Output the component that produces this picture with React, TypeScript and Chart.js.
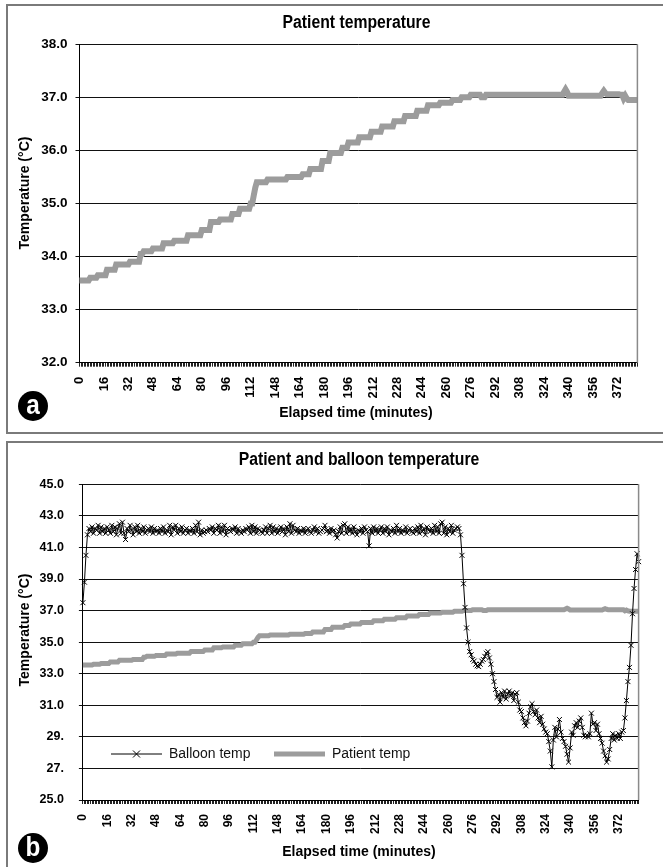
import React, { useEffect, useRef } from "react";
import { Chart, registerables } from "chart.js";

Chart.register(...registerables);

const FONT = '"Liberation Sans", Arial, Helvetica, sans-serif';

// Categories: elapsed minutes (the record skips minutes 113-132)
const minuteSegments: number[][] = [
  [0, 112],
  [133, 385],
];
const minutes: number[] = [];
minuteSegments.forEach(([a, b]) => {
  for (let m = a; m <= b; m++) minutes.push(m);
});
const xLabels = minutes.map(String);

// Axis tick labels
const xTickLabels = ["0", "16", "32", "48", "64", "80", "96", "112", "148", "164", "180", "196", "212", "228", "244", "260", "276", "292", "308", "324", "340", "356", "372"];
const xTickEvery = 16;
const tempTicksA = ["32.0", "33.0", "34.0", "35.0", "36.0", "37.0", "38.0"];
const tempTicksB = ["25.0", "27.", "29.", "31.0", "33.0", "35.0", "37.0", "39.0", "41.0", "43.0", "45.0"];

// Patient temperature (°C), one value per category
const patientTemp = [
  33.55, 33.55, 33.55, 33.55, 33.55, 33.55, 33.55, 33.6, 33.6, 33.6, 33.6, 33.6, 33.65, 33.65, 33.65, 33.65,
  33.65, 33.65, 33.75, 33.75, 33.75, 33.75, 33.75, 33.75, 33.85, 33.85, 33.85, 33.85, 33.85, 33.85, 33.85, 33.85,
  33.85, 33.9, 33.9, 33.9, 33.9, 33.9, 33.9, 33.9, 34.05, 34.05, 34.1, 34.1, 34.1, 34.1, 34.1, 34.1,
  34.15, 34.15, 34.15, 34.15, 34.15, 34.15, 34.15, 34.25, 34.25, 34.25, 34.25, 34.25, 34.25, 34.25, 34.3, 34.3,
  34.3, 34.3, 34.3, 34.3, 34.3, 34.3, 34.3, 34.4, 34.4, 34.4, 34.4, 34.4, 34.4, 34.4, 34.4, 34.4,
  34.5, 34.5, 34.5, 34.5, 34.5, 34.5, 34.65, 34.65, 34.65, 34.65, 34.65, 34.65, 34.7, 34.7, 34.7, 34.7,
  34.7, 34.7, 34.7, 34.7, 34.8, 34.8, 34.8, 34.8, 34.8, 34.9, 34.9, 34.9, 34.9, 34.9, 34.9, 34.9,
  35.0, 35.0, 35.15, 35.3, 35.4, 35.4, 35.4, 35.4, 35.4, 35.4, 35.4, 35.45, 35.45, 35.45, 35.45, 35.45,
  35.45, 35.45, 35.45, 35.45, 35.45, 35.45, 35.45, 35.45, 35.5, 35.5, 35.5, 35.5, 35.5, 35.5, 35.5, 35.5,
  35.5, 35.5, 35.55, 35.55, 35.55, 35.55, 35.55, 35.65, 35.65, 35.65, 35.65, 35.65, 35.65, 35.65, 35.65, 35.8,
  35.8, 35.8, 35.8, 35.8, 35.95, 35.95, 35.95, 35.95, 35.95, 35.95, 35.95, 35.95, 36.05, 36.05, 36.05, 36.05,
  36.15, 36.15, 36.15, 36.15, 36.15, 36.15, 36.15, 36.25, 36.25, 36.25, 36.25, 36.25, 36.25, 36.25, 36.25, 36.35,
  36.35, 36.35, 36.35, 36.35, 36.35, 36.35, 36.45, 36.45, 36.45, 36.45, 36.45, 36.45, 36.45, 36.45, 36.55, 36.55,
  36.55, 36.55, 36.55, 36.55, 36.55, 36.65, 36.65, 36.65, 36.65, 36.65, 36.65, 36.65, 36.65, 36.75, 36.75, 36.75,
  36.75, 36.75, 36.75, 36.75, 36.85, 36.85, 36.85, 36.85, 36.85, 36.85, 36.85, 36.85, 36.9, 36.9, 36.9, 36.9,
  36.9, 36.9, 36.9, 36.9, 36.95, 36.95, 36.95, 36.95, 36.95, 36.95, 37.0, 37.0, 37.0, 37.0, 37.0, 37.0,
  37.05, 37.05, 37.05, 37.05, 37.05, 37.05, 37.05, 37.0, 37.0, 37.0, 37.05, 37.05, 37.05, 37.05, 37.05, 37.05,
  37.05, 37.05, 37.05, 37.05, 37.05, 37.05, 37.05, 37.05, 37.05, 37.05, 37.05, 37.05, 37.05, 37.05, 37.05, 37.05,
  37.05, 37.05, 37.05, 37.05, 37.05, 37.05, 37.05, 37.05, 37.05, 37.05, 37.05, 37.05, 37.05, 37.05, 37.05, 37.05,
  37.05, 37.05, 37.05, 37.05, 37.05, 37.05, 37.05, 37.05, 37.05, 37.05, 37.05, 37.05, 37.05, 37.1, 37.15, 37.1,
  37.03, 37.03, 37.03, 37.03, 37.03, 37.03, 37.03, 37.03, 37.03, 37.03, 37.03, 37.03, 37.03, 37.03, 37.03, 37.03,
  37.03, 37.03, 37.03, 37.03, 37.03, 37.03, 37.08, 37.12, 37.08, 37.06, 37.06, 37.06, 37.06, 37.06, 37.06, 37.06,
  37.06, 37.06, 37.05, 37.05, 36.98, 37.03, 36.98, 36.95, 36.95, 36.95, 36.95, 36.95, 36.95, 36.95,
];

// Balloon temperature (°C), one value per category
const balloonTemp = [
  37.5, 38.8, 40.5, 41.8, 42.2, 42.0, 42.3, 41.9, 42.2, 42.1, 42.4, 41.9, 42.3, 42.0, 42.2, 41.9,
  42.3, 42.1, 41.9, 42.4, 42.0, 42.3, 41.8, 42.2, 42.5, 41.9, 42.6, 41.9, 41.5, 42.2, 42.0, 42.4,
  42.1, 41.8, 42.3, 42.0, 42.4, 41.9, 42.2, 42.0, 42.3, 41.9, 42.1, 42.2, 42.0, 42.3, 41.9, 42.2,
  42.0, 42.1, 41.9, 42.2, 42.0, 42.3, 41.9, 42.1, 42.0, 42.4, 41.8, 42.3, 42.1, 42.4, 41.9, 42.2,
  42.0, 42.3, 41.9, 42.1, 42.2, 41.9, 42.1, 42.0, 42.2, 41.9, 42.4, 42.0, 42.6, 41.8, 42.1, 41.9,
  42.0, 42.1, 42.0, 42.2, 42.1, 42.3, 41.9, 42.2, 42.1, 42.4, 41.9, 42.3, 42.0, 42.4, 41.8, 42.2,
  42.1, 42.0, 42.2, 42.1, 42.3, 41.9, 42.2, 42.0, 41.9, 42.1, 42.0, 42.2, 42.1, 42.3, 41.9, 42.4,
  42.0, 42.3, 41.9, 42.2, 42.1, 42.0, 41.9, 42.1, 42.3, 41.9, 42.2, 42.4, 41.9, 42.3, 42.0, 42.2,
  41.9, 42.1, 42.3, 42.0, 42.2, 41.8, 42.3, 42.0, 42.5, 41.9, 42.4, 42.1, 42.0, 42.2, 41.9, 42.1,
  42.0, 42.2, 41.9, 42.1, 42.2, 42.0, 41.9, 42.1, 42.3, 42.0, 42.2, 41.9, 42.0, 42.1, 42.2, 42.4,
  42.0, 42.1, 41.9, 42.2, 42.0, 42.1, 41.8, 41.6, 42.0, 42.3, 41.9, 42.4, 42.5, 41.9, 42.3, 42.0,
  42.2, 41.9, 42.3, 42.0, 41.8, 42.1, 42.0, 42.2, 41.9, 42.3, 42.1, 42.0, 41.1, 42.2, 41.9, 42.3,
  42.0, 42.2, 41.9, 42.1, 42.3, 41.9, 42.2, 42.0, 42.3, 41.8, 42.1, 42.0, 42.2, 41.9, 42.4, 42.0,
  42.2, 41.9, 42.1, 42.0, 42.3, 41.9, 42.1, 42.2, 42.0, 41.9, 42.2, 42.0, 42.3, 41.9, 42.4, 42.0,
  42.2, 41.8, 42.3, 42.1, 42.0, 42.2, 41.9, 42.4, 42.0, 42.3, 41.9, 42.5, 42.6, 41.9, 42.3, 41.8,
  42.2, 42.0, 42.4, 41.9, 42.1, 42.2, 42.3, 42.2, 41.8, 40.5, 38.7, 37.2, 35.9, 35.0, 34.4, 34.2,
  33.9, 33.8, 33.6, 33.5, 33.45, 33.6, 33.8, 33.9, 34.1, 34.3, 34.4, 34.0, 33.6, 33.0, 32.5, 32.0,
  31.5, 31.7, 31.2, 31.8, 31.5, 31.9, 31.4, 31.7, 31.9, 31.6, 31.8, 31.3, 31.7, 31.8, 31.2, 30.7,
  30.6, 30.2, 29.9, 29.7, 30.0, 30.5, 30.9, 31.1, 30.6, 30.4, 30.7, 30.2, 29.9, 30.3, 29.8, 29.5,
  29.3, 29.2, 28.7, 28.1, 27.1, 28.8, 29.6, 29.0, 29.5, 30.1, 29.3, 28.9, 28.7, 28.4, 27.9, 27.4,
  28.3, 29.3, 29.1, 29.7, 29.9, 29.6, 30.0, 30.2, 29.6, 29.1, 29.0, 29.1, 29.0, 29.2, 30.5, 29.8,
  29.9, 29.4, 29.8, 29.2, 28.9, 28.6, 28.1, 27.8, 27.4, 27.6, 28.2, 28.9, 29.2, 28.8, 29.1, 28.9,
  29.2, 28.9, 29.3, 29.4, 30.2, 31.3, 32.5, 33.4, 34.8, 36.8, 38.4, 39.6, 40.6, 40.1,
];

const PAGE_W = 663;

type Decor = {
  title: string;
  titlePos: [number, number];
  titleSize: number;
  xTitle: string;
  xTitlePos: [number, number];
  yTitle: string;
  yTitlePos: [number, number];
  axisTitleSize: number;
  condense: number;
  badge: string;
  badgePos: [number, number];
  legend?: { xs: number[]; y: number; sample: number; gap: number; size: number };
};

function drawCondensed(ctx: CanvasRenderingContext2D, text: string, x: number, y: number, font: string, sx: number, rot = 0) {
  ctx.save();
  ctx.translate(x, y);
  if (rot) ctx.rotate(rot);
  ctx.scale(sx, 1);
  ctx.font = font;
  ctx.textAlign = "center";
  ctx.textBaseline = "middle";
  ctx.fillText(text, 0, 0);
  ctx.restore();
}

function makeDecor(d: Decor) {
  return {
    id: "decor",
    afterDraw(chart: any) {
      const ctx: CanvasRenderingContext2D = chart.ctx;
      const ca = chart.chartArea;
      ctx.save();
      // plot area right edge
      ctx.strokeStyle = "#8a8a8a";
      ctx.lineWidth = 1.5;
      ctx.beginPath();
      ctx.moveTo(ca.right, ca.top);
      ctx.lineTo(ca.right, ca.bottom);
      ctx.stroke();

      ctx.fillStyle = "#000";
      drawCondensed(ctx, d.title, d.titlePos[0], d.titlePos[1], `bold ${d.titleSize}px ${FONT}`, d.condense);
      drawCondensed(ctx, d.xTitle, d.xTitlePos[0], d.xTitlePos[1], `bold ${d.axisTitleSize}px ${FONT}`, d.condense + 0.03);
      drawCondensed(ctx, d.yTitle, d.yTitlePos[0], d.yTitlePos[1], `bold ${d.axisTitleSize}px ${FONT}`, d.condense + 0.03, -Math.PI / 2);

      // panel badge
      ctx.beginPath();
      ctx.arc(d.badgePos[0], d.badgePos[1], 15, 0, Math.PI * 2);
      ctx.fillStyle = "#000";
      ctx.fill();
      ctx.fillStyle = "#fff";
      drawCondensed(ctx, d.badge, d.badgePos[0], d.badgePos[1] + 1, `bold 27px ${FONT}`, 0.9);

      // legend inside the plot
      if (d.legend) {
        const L = d.legend;
        chart.data.datasets.forEach((ds: any, i: number) => {
          const x0 = L.xs[i];
          const y = L.y;
          ctx.strokeStyle = ds.borderColor;
          ctx.lineWidth = ds.borderWidth;
          ctx.beginPath();
          ctx.moveTo(x0, y);
          ctx.lineTo(x0 + L.sample, y);
          ctx.stroke();
          if (ds.pointRadius > 0) {
            const cx = x0 + L.sample / 2;
            const r = ds.pointRadius;
            ctx.lineWidth = ds.pointBorderWidth || 1;
            ctx.strokeStyle = ds.pointBorderColor || ds.borderColor;
            ctx.beginPath();
            ctx.moveTo(cx - r, y - r);
            ctx.lineTo(cx + r, y + r);
            ctx.moveTo(cx + r, y - r);
            ctx.lineTo(cx - r, y + r);
            ctx.stroke();
          }
          ctx.fillStyle = "#111";
          ctx.save();
          ctx.translate(x0 + L.sample + L.gap, y);
          ctx.scale(0.9, 1);
          ctx.textAlign = "left";
          ctx.textBaseline = "middle";
          ctx.font = `${L.size}px ${FONT}`;
          ctx.fillText(ds.label, 0, 0);
          ctx.restore();
        });
      }
      ctx.restore();
    },
  };
}

function xScale(tickSize: number, height: number, padding: number) {
  return {
    type: "category" as const,
    offset: false,
    afterFit: (s: any) => {
      s.height = height;
    },
    grid: {
      display: true,
      drawOnChartArea: false,
      drawTicks: true,
      tickLength: 4,
      color: "#222",
      lineWidth: 1,
    },
    border: { display: true, color: "#000", width: 1 },
    ticks: {
      autoSkip: false,
      maxRotation: 90,
      minRotation: 90,
      padding,
      color: "#000",
      font: { family: FONT, size: tickSize, weight: "bold" as const },
      callback: (_v: any, i: number) => (i % xTickEvery === 0 ? xTickLabels[i / xTickEvery] ?? "" : ""),
    },
  };
}

function yScale(min: number, max: number, step: number, labels: string[], width: number, tickSize: number, padding: number) {
  return {
    type: "linear" as const,
    min,
    max,
    afterFit: (s: any) => {
      s.width = width;
    },
    grid: { color: "#111", lineWidth: 1, drawTicks: true, tickLength: 4 },
    border: { display: true, color: "#000", width: 1 },
    ticks: {
      stepSize: step,
      padding,
      color: "#000",
      font: { family: FONT, size: tickSize, weight: "bold" as const },
      callback: (_v: any, i: number) => labels[i],
    },
  };
}

function configA(): any {
  return {
    type: "line",
    data: {
      labels: xLabels,
      datasets: [
        {
          label: "Patient temp",
          data: patientTemp,
          borderColor: "#9c9c9c",
          borderWidth: 6,
          pointRadius: 0,
          tension: 0,
          borderJoinStyle: "miter",
        },
      ],
    },
    options: {
      responsive: false,
      animation: false,
      devicePixelRatio: 1,
      layout: { autoPadding: false, padding: { left: 0, right: PAGE_W - 654.5, top: 44.3, bottom: 0 } },
      plugins: { legend: { display: false }, title: { display: false }, tooltip: { enabled: false } },
      scales: {
        x: xScale(13, 436 - 362.7, 10),
        y: yScale(32, 38, 1, tempTicksA, 79.5, 13.5, 8),
      },
    },
    plugins: [
      makeDecor({
        title: "Patient temperature",
        titlePos: [356.5, 23],
        titleSize: 18,
        xTitle: "Elapsed time (minutes)",
        xTitlePos: [356, 413],
        yTitle: "Temperature (°C)",
        yTitlePos: [25, 193],
        axisTitleSize: 15.5,
        condense: 0.875,
        badge: "a",
        badgePos: [33, 406],
      }),
    ],
  };
}

function configB(): any {
  return {
    type: "line",
    data: {
      labels: xLabels,
      datasets: [
        {
          label: "Balloon temp",
          data: balloonTemp,
          borderColor: "#000",
          borderWidth: 1,
          pointStyle: "crossRot",
          pointRadius: 3.5,
          pointBorderColor: "#000",
          pointBorderWidth: 1,
          tension: 0,
        },
        {
          label: "Patient temp",
          data: patientTemp,
          borderColor: "#9c9c9c",
          borderWidth: 5,
          pointRadius: 0,
          tension: 0,
        },
      ],
    },
    options: {
      responsive: false,
      animation: false,
      devicePixelRatio: 1,
      layout: { autoPadding: false, padding: { left: 0, right: PAGE_W - 655.4, top: 46.3, bottom: 0 } },
      plugins: { legend: { display: false }, title: { display: false }, tooltip: { enabled: false } },
      scales: {
        x: xScale(12, 429 - 362, 10),
        y: yScale(25, 45, 2, tempTicksB, 82.9, 12.5, 15),
      },
    },
    plugins: [
      makeDecor({
        title: "Patient and balloon temperature",
        titlePos: [359, 22],
        titleSize: 18,
        xTitle: "Elapsed time (minutes)",
        xTitlePos: [359, 414],
        yTitle: "Temperature (°C)",
        yTitlePos: [25, 192],
        axisTitleSize: 15.5,
        condense: 0.875,
        badge: "b",
        badgePos: [33, 410],
        legend: { xs: [111, 274], y: 316, sample: 51, gap: 7, size: 15.5 },
      }),
    ],
  };
}

function ChartCanvas({ make, left, top, width, height }: { make: () => any; left: number; top: number; width: number; height: number }) {
  const ref = useRef<HTMLCanvasElement>(null);
  useEffect(() => {
    const chart = new Chart(ref.current as HTMLCanvasElement, make());
    return () => chart.destroy();
  }, [make]);
  return (
    <canvas
      ref={ref}
      width={width}
      height={height}
      style={{ position: "absolute", left, top, width, height, display: "block" }}
    />
  );
}

export default function App() {
  return (
    <div style={{ position: "absolute", left: 0, top: 0, width: PAGE_W, height: 867, background: "#fff", overflow: "hidden" }}>
      <div
        style={{
          position: "absolute",
          left: 6,
          top: 4,
          width: PAGE_W - 6 + 4,
          height: 430,
          boxSizing: "border-box",
          border: "2px solid #7a7a7a",
        }}
      />
      <div
        style={{
          position: "absolute",
          left: 6,
          top: 441,
          width: PAGE_W - 6 + 4,
          height: 440,
          boxSizing: "border-box",
          border: "2px solid #7a7a7a",
        }}
      />
      <ChartCanvas make={configA} left={0} top={0} width={PAGE_W} height={436} />
      <ChartCanvas make={configB} left={0} top={438} width={PAGE_W} height={429} />
    </div>
  );
}
